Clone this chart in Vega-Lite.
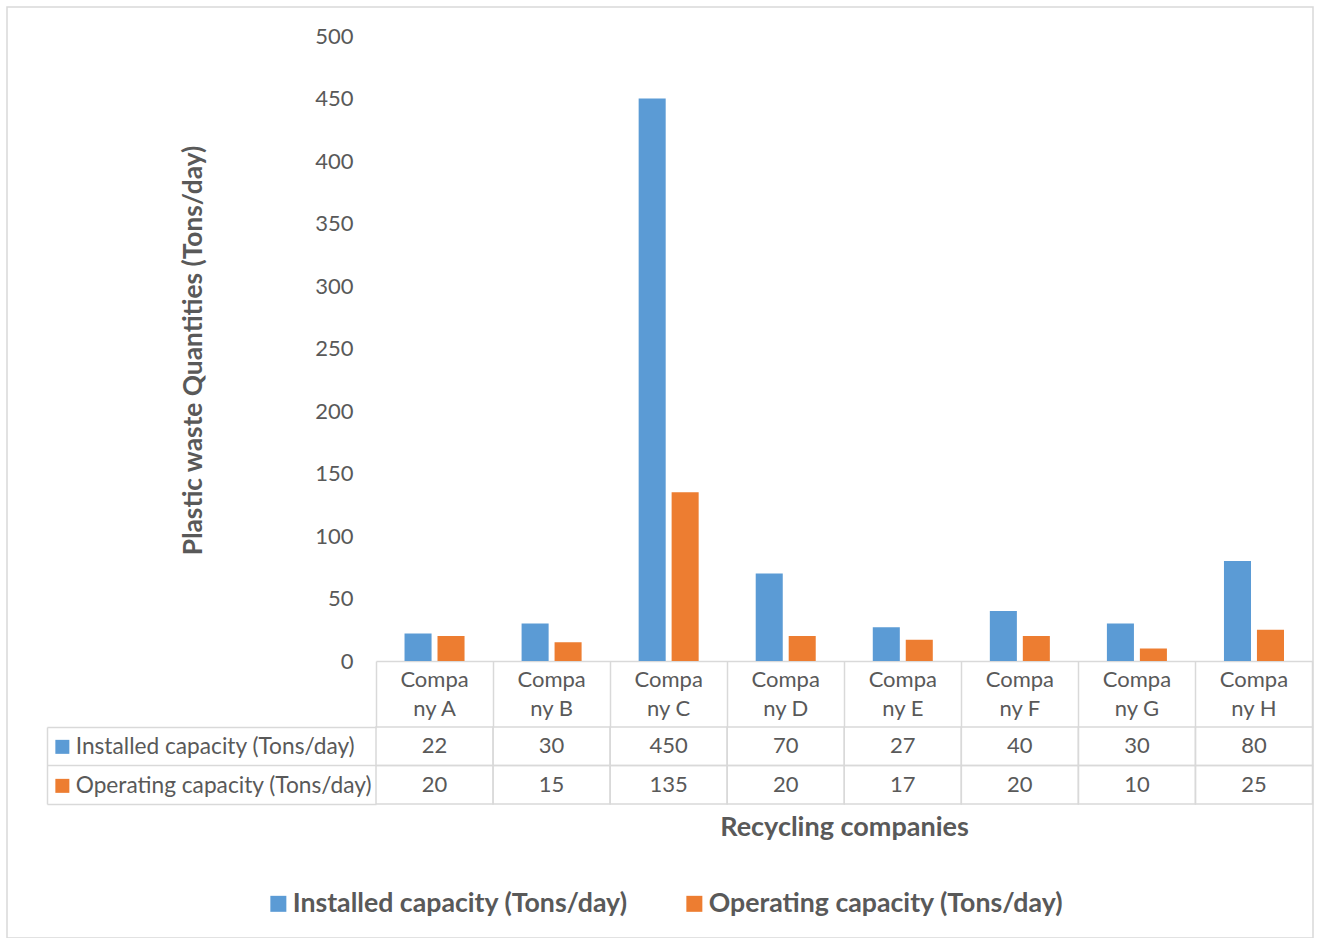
{
  "$schema": "https://vega.github.io/schema/vega-lite/v6.json",
  "width": 1306,
  "height": 931,
  "autosize": {"type": "none"},
  "padding": {"left": 7, "top": 7, "right": 4, "bottom": 0},
  "background": "white",
  "config": {
    "font": "Lato",
    "view": {"stroke": "#d9d9d9", "strokeWidth": 1.5},
    "axis": {"labelFont": "Lato", "titleFont": "Lato", "labelColor": "#595959", "titleColor": "#595959"},
    "legend": {"labelFont": "Lato", "labelColor": "#595959"}
  },
  "data": {
    "values": [
      {"company": "Company A", "series": "Installed capacity (Tons/day)", "value": 22},
      {"company": "Company B", "series": "Installed capacity (Tons/day)", "value": 30},
      {"company": "Company C", "series": "Installed capacity (Tons/day)", "value": 450},
      {"company": "Company D", "series": "Installed capacity (Tons/day)", "value": 70},
      {"company": "Company E", "series": "Installed capacity (Tons/day)", "value": 27},
      {"company": "Company F", "series": "Installed capacity (Tons/day)", "value": 40},
      {"company": "Company G", "series": "Installed capacity (Tons/day)", "value": 30},
      {"company": "Company H", "series": "Installed capacity (Tons/day)", "value": 80},
      {"company": "Company A", "series": "Operating capacity (Tons/day)", "value": 20},
      {"company": "Company B", "series": "Operating capacity (Tons/day)", "value": 15},
      {"company": "Company C", "series": "Operating capacity (Tons/day)", "value": 135},
      {"company": "Company D", "series": "Operating capacity (Tons/day)", "value": 20},
      {"company": "Company E", "series": "Operating capacity (Tons/day)", "value": 17},
      {"company": "Company F", "series": "Operating capacity (Tons/day)", "value": 20},
      {"company": "Company G", "series": "Operating capacity (Tons/day)", "value": 10},
      {"company": "Company H", "series": "Operating capacity (Tons/day)", "value": 25}
    ]
  },
  "encoding": {
    "x": {
      "field": "company",
      "type": "nominal",
      "title": "Recycling companies",
      "scale": {"type": "band", "range": [369, 1305.5], "paddingInner": 0, "paddingOuter": 0},
      "axis": {
        "orient": "bottom",
        "offset": -277,
        "domain": true,
        "domainColor": "#d9d9d9",
        "domainWidth": 1.5,
        "ticks": true,
        "tickSize": 66,
        "tickColor": "#d9d9d9",
        "tickWidth": 1.5,
        "bandPosition": 1,
        "tickExtra": true,
        "labelAngle": 0,
        "labelFontSize": 22,
        "labelLineHeight": 29,
        "labelPadding": -58,
        "labelExpr": "[slice(datum.label, 0, 5), slice(datum.label, 5)]",
        "titleFontSize": 27,
        "titleFontWeight": "bold",
        "titleX": 837,
        "titleY": 166,
        "titleBaseline": "middle",
        "titleAlign": "center"
      }
    }
  },
  "layer": [
    {
      "mark": {"type": "bar"},
      "encoding": {
        "xOffset": {
          "field": "series",
          "type": "nominal",
          "scale": {"paddingInner": 0.18, "paddingOuter": 0.865}
        },
        "y": {
          "field": "value",
          "type": "quantitative",
          "scale": {"domain": [0, 500], "range": [654, 29], "nice": false, "zero": true},
          "axis": {
            "orient": "left",
            "offset": -369,
            "values": [0, 50, 100, 150, 200, 250, 300, 350, 400, 450, 500],
            "domain": false,
            "ticks": false,
            "grid": false,
            "labelFontSize": 22,
            "labelPadding": 23,
            "title": "Plastic waste Quantities (Tons/day)",
            "titleFontSize": 26.3,
            "titleFontWeight": "bold",
            "titleAngle": 270,
            "titleX": -183,
            "titleY": 343,
            "titleBaseline": "middle",
            "titleAlign": "center"
          }
        },
        "color": {
          "field": "series",
          "type": "nominal",
          "scale": {
            "domain": ["Installed capacity (Tons/day)", "Operating capacity (Tons/day)"],
            "range": ["#5b9bd5", "#ed7d31"]
          },
          "legend": {
            "orient": "none",
            "legendX": 258,
            "legendY": 883,
            "direction": "horizontal",
            "title": null,
            "padding": 0,
            "symbolType": "square",
            "symbolSize": 256,
            "symbolStrokeWidth": 0,
            "labelFontSize": 26.7,
            "labelFontWeight": "bold",
            "labelOffset": 1,
            "labelLimit": 600,
            "columnPadding": 53
          }
        }
      }
    },
    {
      "encoding": {
        "y": {
          "field": "series",
          "type": "nominal",
          "scale": {
            "type": "band",
            "domain": ["Installed capacity (Tons/day)", "Operating capacity (Tons/day)"],
            "range": [720, 797],
            "paddingInner": 0,
            "paddingOuter": 0
          },
          "axis": {
            "orient": "left",
            "offset": -40,
            "labels": false,
            "title": null,
            "grid": false,
            "domain": true,
            "domainColor": "#d9d9d9",
            "domainWidth": 1.5,
            "ticks": true,
            "tickSize": -329,
            "tickColor": "#d9d9d9",
            "tickWidth": 1.5,
            "bandPosition": 1,
            "tickExtra": true
          }
        }
      },
      "layer": [
        {
          "mark": {"type": "rect", "fill": "transparent", "stroke": "#d9d9d9", "strokeWidth": 1.5}
        },
        {
          "mark": {"type": "text", "fontSize": 22, "font": "Lato", "color": "#595959"},
          "encoding": {"text": {"field": "value", "type": "quantitative"}}
        },
        {
          "mark": {"type": "text", "text": ""},
          "encoding": {
            "color": {
              "field": "series",
              "type": "nominal",
              "scale": {
                "domain": ["Installed capacity (Tons/day)", "Operating capacity (Tons/day)"],
                "range": ["#5b9bd5", "#ed7d31"]
              },
              "legend": {
                "orient": "none",
                "legendX": 44,
                "legendY": 728.5,
                "direction": "vertical",
                "title": null,
                "padding": 0,
                "symbolType": "square",
                "symbolSize": 196,
                "symbolStrokeWidth": 0,
                "labelFontSize": 22.7,
                "labelOffset": 2,
                "labelLimit": 600,
                "rowPadding": 15
              }
            }
          }
        }
      ]
    }
  ],
  "resolve": {
    "scale": {"y": "independent", "color": "independent"},
    "axis": {"y": "independent"},
    "legend": {"color": "independent"}
  }
}
